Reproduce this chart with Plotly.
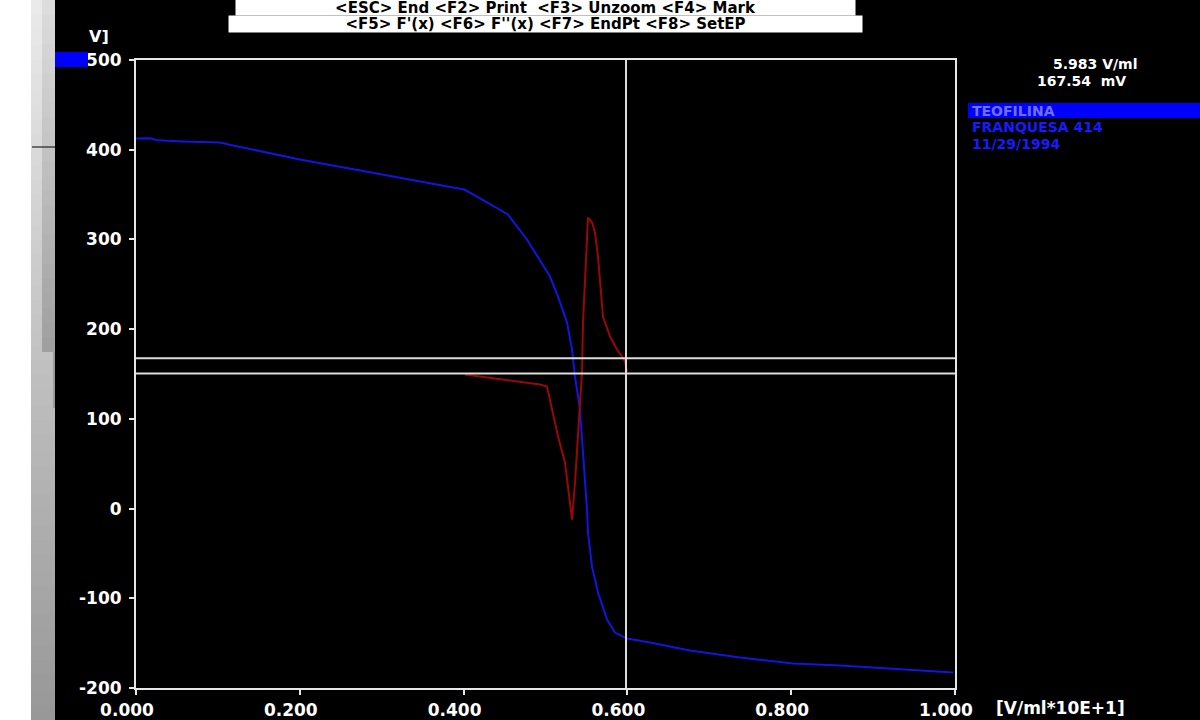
import plotly.graph_objects as go

# ---------------- data ----------------
volume_x = [0.000, 0.0171, 0.0256, 0.0574, 0.1026, 0.1184, 0.2002, 0.2979, 0.4005, 0.4078,
            0.4542, 0.4774, 0.5055, 0.5153, 0.5263, 0.5324, 0.5360, 0.5421, 0.5458, 0.5507,
            0.5519, 0.5568, 0.5641, 0.5751, 0.5849, 0.5995, 0.6276, 0.6764, 0.7375, 0.8022,
            0.8596, 0.8999, 0.9976]
potential_mv = [412.5, 412.8, 410.5, 409.1, 408.0, 404.7, 389.1, 372.4, 355.6, 352.3,
                327.8, 299.9, 258.6, 236.3, 207.4, 177.3, 147.2, 110.4, 65.8, -1.1,
                -26.8, -64.7, -93.6, -123.7, -138.2, -144.9, -149.4, -158.3, -166.1, -172.8,
                -175.0, -177.3, -182.8]

deriv_x = [0.4017, 0.4933, 0.5018, 0.5153, 0.5238, 0.5324, 0.5360, 0.5421, 0.5446, 0.5458,
           0.5482, 0.5519, 0.5568, 0.5604, 0.5641, 0.5702, 0.5788, 0.5873, 0.5934, 0.5971,
           0.5995]
deriv_y = [149.4, 138.2, 136.0, 80.3, 51.3, -12.3, 29.0, 113.7, 152.7, 207.4,
           251.9, 324.4, 318.8, 307.7, 280.9, 214.0, 191.8, 177.3, 169.5, 163.9,
           152.7]

cursor_x = 0.5983
cursor_y = [167.54, 150.5]

x_tick_vals = [0.0, 0.2, 0.4, 0.6, 0.8, 1.0]
x_tick_text = ["0.000", "0.200", "0.400", "0.600", "0.800", "1.000"]
y_tick_vals = [500, 400, 300, 200, 100, 0, -100, -200]
y_tick_text = ["500", "400", "300", "200", "100", "0", "-100", "-200"]

header_line1 = "<ESC> End <F2> Print  <F3> Unzoom <F4> Mark"
header_line2 = "<F5> F'(x) <F6> F''(x) <F7> EndPt <F8> SetEP"
readout = ["5.983 V/ml", "167.54  mV"]
sample_info = ["TEOFILINA", "FRANQUESA 414", "11/29/1994"]
x_unit = "[V/ml*10E+1]"
y_unit = "V]"

# ---------------- layout helpers ----------------
W, H = 1200, 720
L, R, T, B = 136, 955, 60, 688


def px(x):
    return (x - L) / (R - L)


def py(y):
    return (B - y) / (B - T)


FONT = "DejaVu Sans"
AX = "#e6e6e6"


def f(size, color="white"):
    return dict(family=FONT, size=size, color=color, weight="bold")


fig = go.Figure()

fig.add_trace(go.Scatter(x=volume_x, y=potential_mv, mode="lines",
                         line=dict(color="#1414e0", width=2), hoverinfo="skip"))
fig.add_trace(go.Scatter(x=deriv_x, y=deriv_y, mode="lines",
                         line=dict(color="#980808", width=2), hoverinfo="skip"))

shapes = []
# crosshair
shapes.append(dict(type="line", xref="x", yref="paper", x0=cursor_x, x1=cursor_x, y0=0, y1=1,
                   line=dict(color="#dcdcdc", width=2)))
for cy in cursor_y:
    shapes.append(dict(type="line", xref="paper", yref="y", x0=0, x1=1, y0=cy, y1=cy,
                       line=dict(color="#dcdcdc", width=2)))

# left white strip
shapes.append(dict(type="rect", xref="paper", yref="paper", x0=px(0), x1=px(31),
                   y0=py(H), y1=py(0), fillcolor="white", line=dict(width=0), layer="below"))


def gray(v):
    v = int(round(v))
    return f"rgb({v},{v},{v})"


# gray gradient strip
n = 48
step = H / n
for i in range(n):
    y0 = i * step
    y1 = y0 + step + 1.5
    v = 234 - (234 - 152) * (i / (n - 1))
    shapes.append(dict(type="rect", xref="paper", yref="paper", x0=px(31), x1=px(55),
                       y0=py(min(y1, H)), y1=py(y0), fillcolor=gray(v), line=dict(width=0),
                       layer="below"))
# darker inner band at upper part
m = 24
step2 = 352 / m
for i in range(m):
    y0 = i * step2
    y1 = min(y0 + step2 + 1.5, 352)
    v = 220 - (220 - 160) * (i / (m - 1))
    shapes.append(dict(type="rect", xref="paper", yref="paper", x0=px(42), x1=px(55),
                       y0=py(y1), y1=py(y0), fillcolor=gray(v), line=dict(width=0),
                       layer="below"))
shapes.append(dict(type="rect", xref="paper", yref="paper", x0=px(53), x1=px(55),
                   y0=py(408), y1=py(352), fillcolor=gray(155), line=dict(width=0), layer="below"))
shapes.append(dict(type="line", xref="paper", yref="paper", x0=px(32), x1=px(55),
                   y0=py(147), y1=py(147), line=dict(color="black", width=1)))
# black area
shapes.append(dict(type="rect", xref="paper", yref="paper", x0=px(55), x1=px(W),
                   y0=py(H), y1=py(0), fillcolor="black", line=dict(width=0), layer="below"))
# blue cursor marker on y axis
shapes.append(dict(type="rect", xref="paper", yref="paper", x0=px(55), x1=px(88),
                   y0=py(67), y1=py(52), fillcolor="#0000ff", line=dict(width=0)))
# highlight bar for sample name
shapes.append(dict(type="rect", xref="paper", yref="paper", x0=px(968), x1=px(W),
                   y0=py(118), y1=py(103), fillcolor="#0000ff", line=dict(width=0)))

ann = []
ann.append(dict(xref="paper", yref="paper", x=px(545.5), y=py(7.5), text=header_line1,
                showarrow=False, xanchor="center", yanchor="middle", width=619, height=15,
                bgcolor="white", borderpad=0, font=f(15, "black")))
ann.append(dict(xref="paper", yref="paper", x=px(545.5), y=py(24), text=header_line2,
                showarrow=False, xanchor="center", yanchor="middle", width=633, height=16,
                bgcolor="white", borderpad=0, font=f(15, "black")))
ann.append(dict(xref="paper", yref="paper", x=px(1140), y=py(64), text=readout[0],
                showarrow=False, xanchor="right", yanchor="middle", font=f(14)))
ann.append(dict(xref="paper", yref="paper", x=px(1128), y=py(81), text=readout[1],
                showarrow=False, xanchor="right", yanchor="middle", font=f(14)))
info_colors = ["#7070ff", "#1a1aff", "#1a1aff"]
for i, (txt, col) in enumerate(zip(sample_info, info_colors)):
    ann.append(dict(xref="paper", yref="paper", x=px(970), y=py(110.5 + 16.5 * i), text=txt,
                    showarrow=False, xanchor="left", yanchor="middle", font=f(14, col)))
ann.append(dict(xref="paper", yref="paper", x=px(994), y=py(708), text=x_unit,
                showarrow=False, xanchor="left", yanchor="middle", font=f(17)))
ann.append(dict(xref="paper", yref="paper", x=px(111), y=py(36), text=y_unit,
                showarrow=False, xanchor="right", yanchor="middle", font=f(16)))

fig.update_layout(
    width=W, height=H,
    margin=dict(l=L, r=W - R, t=T, b=H - B, pad=0, autoexpand=False),
    paper_bgcolor="black", plot_bgcolor="black",
    showlegend=False,
    shapes=shapes, annotations=ann,
    font=f(17),
    xaxis=dict(range=[0, 1], tickvals=x_tick_vals, ticktext=x_tick_text, automargin=False,
               showgrid=False, zeroline=False, showline=True, linecolor=AX, linewidth=2,
               mirror=True, ticks="outside", ticklen=5, tickwidth=2, tickcolor=AX,
               ticklabelshift=-9, ticklabelstandoff=1, tickfont=f(17)),
    yaxis=dict(range=[-200, 500], tickvals=y_tick_vals, ticktext=y_tick_text, automargin=False,
               showgrid=False, zeroline=False, showline=True, linecolor=AX, linewidth=2,
               mirror=True, ticks="outside", ticklen=5, tickwidth=2, tickcolor=AX,
               ticklabelstandoff=4, tickfont=f(17)),
)

fig.write_html("out.html", config={"displayModeBar": False},
               post_script="document.body.style.margin='0';")
